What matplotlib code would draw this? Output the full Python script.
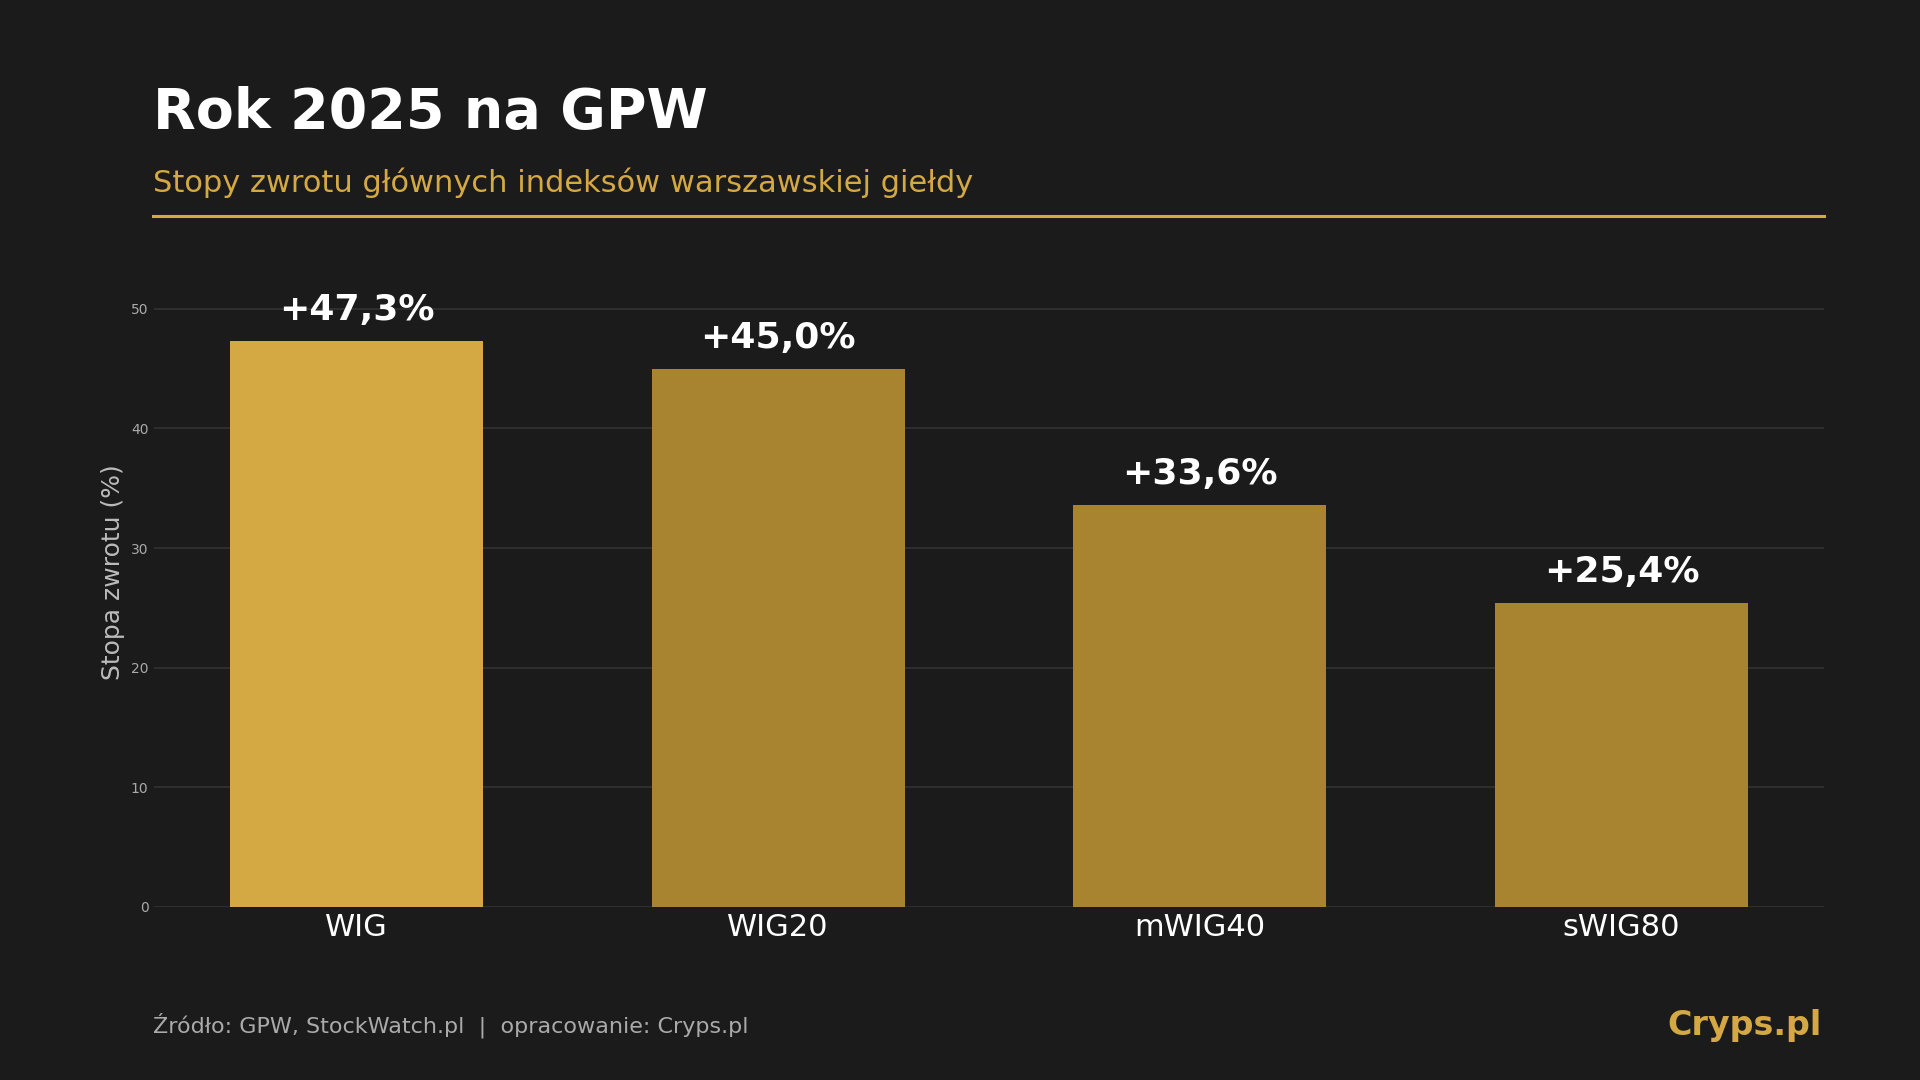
import matplotlib.pyplot as plt

# Dane: stopy zwrotu indeksów GPW w 2025 r.
indeksy = ['WIG', 'WIG20', 'mWIG40', 'sWIG80']
stopy = [47.3, 45.0, 33.6, 25.4]
etykiety = ['+47,3%', '+45,0%', '+33,6%', '+25,4%']
kolory = ['#D4A843', '#A88430', '#A88430', '#A88430']
y_ticki = [0, 10, 20, 30, 40, 50]

TLO = '#1B1B1B'
ZLOTY = '#D4A843'

plt.rcParams['font.family'] = ['DejaVu Sans']

fig = plt.figure(figsize=(19.2, 10.8), dpi=100, facecolor=TLO)
ax = fig.add_axes([0.0802, 0.1602, 0.8698, 0.6204], facecolor=TLO)

ax.bar(range(len(indeksy)), stopy, width=0.6, color=kolory, zorder=3)

# Etykiety wartości nad słupkami
for i, (v, e) in enumerate(zip(stopy, etykiety)):
    ax.annotate(e, (i, v), xytext=(0, 15), textcoords='offset points',
                ha='center', va='baseline', color='white',
                fontsize=26, fontweight='bold', zorder=4)

ax.set_xticks(range(len(indeksy)))
ax.set_xticklabels(indeksy, fontsize=22, color='white')
ax.set_yticks(y_ticki)
ax.set_ylim(0, 56.0)
ax.set_xlim(-0.48, 3.48)
ax.tick_params(axis='both', length=0)
ax.tick_params(axis='y', labelsize=10, labelcolor='#AAAAAA', pad=4)
ax.tick_params(axis='x', pad=4)
ax.set_ylabel('Stopa zwrotu (%)', fontsize=18, color='#BBBBBB', labelpad=4)

ax.grid(axis='y', color='#333333', linewidth=1.2, zorder=0)
ax.set_axisbelow(True)
for s in ax.spines.values():
    s.set_visible(False)

# Tytuł, podtytuł, linia
fig.text(0.0797, 1 - 128 / 1080, 'Rok 2025 na GPW', fontsize=40, fontweight='bold',
         color='white', ha='left', va='baseline')
fig.text(0.0797, 1 - 192 / 1080, 'Stopy zwrotu głównych indeksów warszawskiej giełdy',
         fontsize=22, color=ZLOTY, ha='left', va='baseline')
fig.add_artist(plt.Line2D([0.0797, 0.95], [1 - 216 / 1080] * 2, color=ZLOTY,
                          linewidth=2.2, transform=fig.transFigure))

# Stopka
fig.text(0.0797, 1 - 1033 / 1080, 'Źródło: GPW, StockWatch.pl  |  opracowanie: Cryps.pl',
         fontsize=16, color='#AAAAAA', ha='left', va='baseline')
fig.text(0.949, 1 - 1035 / 1080, 'Cryps.pl', fontsize=24, fontweight='bold',
         color=ZLOTY, ha='right', va='baseline')

fig.savefig('out.png', dpi=100, facecolor=TLO)
